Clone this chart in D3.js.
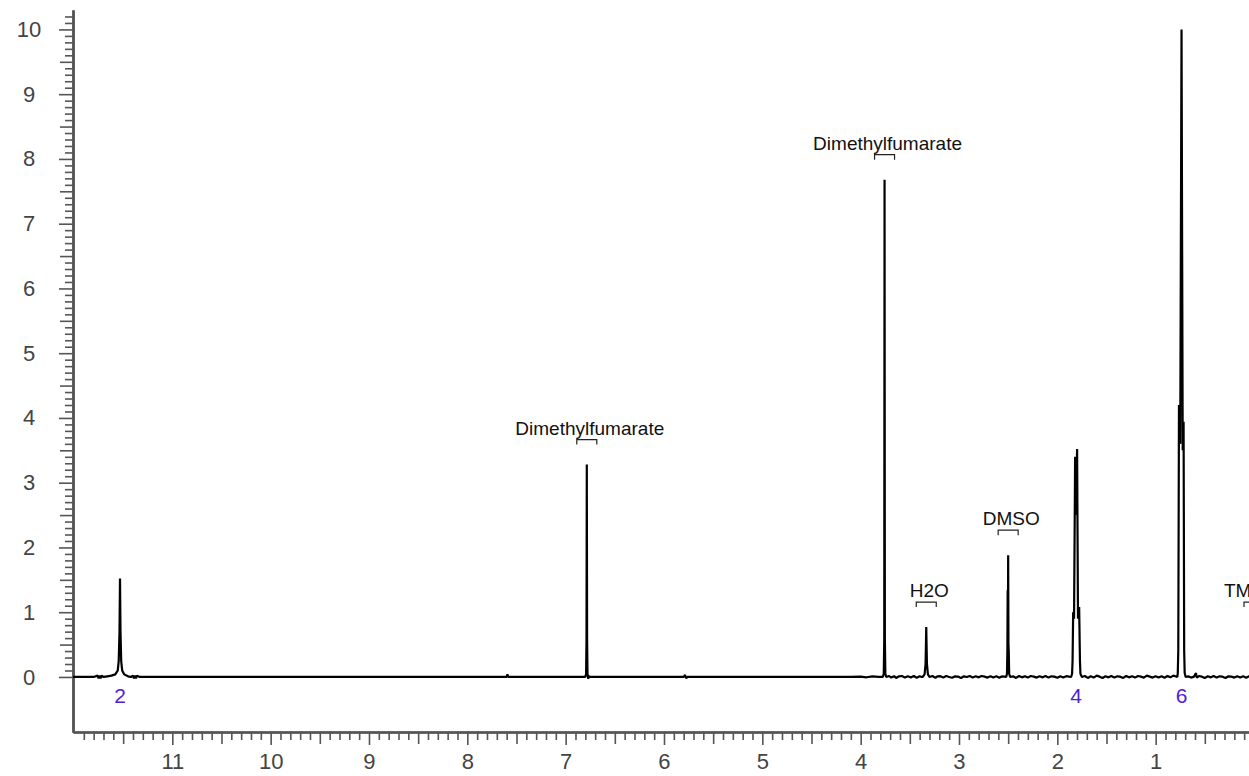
<!DOCTYPE html>
<html>
<head>
<meta charset="utf-8">
<script src="https://cdn.jsdelivr.net/npm/d3@7"></script>
<style>
  body { margin: 0; background: #fff; }
  svg { display: block; font-family: "Liberation Sans", Arial, sans-serif; }
</style>
</head>
<body>
<svg id="chart" width="1249" height="776"></svg>
<script>
// spectrum trace: chemical shift (ppm) and intensity
var shifts = [
  12.01, 11.80, 11.76, 11.75, 11.74, 11.73, 11.72, 11.70, 11.66, 11.62, 11.58,
  11.555, 11.545, 11.537, 11.532, 11.527, 11.52, 11.51, 11.49, 11.45, 11.42,
  11.40, 11.39, 11.38, 11.37, 11.36, 11.33,
  7.60, 7.592, 7.585, 7.57,
  6.80, 6.792, 6.788, 6.785, 6.782, 6.778, 6.77, 6.765, 6.76,
  5.80, 5.785, 5.775, 5.76,
  4.10, 4.00, 3.94, 3.88, 3.82, 3.775, 3.765, 3.760, 3.757, 3.754, 3.749, 3.74,
  3.71, 3.69, 3.66, 3.64, 3.61, 3.58, 3.55, 3.52, 3.49, 3.46, 3.43, 3.40, 3.38,
  3.37, 3.35, 3.34, 3.336, 3.333, 3.330, 3.326, 3.316, 3.30,
  3.27, 3.24, 3.22, 3.19, 3.16, 3.13, 3.10, 3.07, 3.04, 3.01, 2.98, 2.95,
  2.92, 2.89, 2.86, 2.83, 2.80, 2.77, 2.74, 2.71, 2.68, 2.65, 2.62, 2.59,
  2.56, 2.54,
  2.52, 2.512, 2.508, 2.505, 2.503, 2.500, 2.497, 2.494, 2.49, 2.48,
  2.45, 2.42, 2.39, 2.36, 2.33, 2.30, 2.27, 2.24, 2.21, 2.18, 2.15, 2.12,
  2.09, 2.06, 2.03, 2.00, 1.97, 1.94, 1.91, 1.88,
  1.86, 1.85, 1.845, 1.839, 1.83, 1.819, 1.81, 1.799, 1.79, 1.778, 1.77,
  1.765, 1.75,
  1.72, 1.69, 1.66, 1.63, 1.60, 1.57, 1.54, 1.51, 1.48, 1.45, 1.42, 1.39,
  1.36, 1.33, 1.30, 1.27, 1.24, 1.21, 1.18, 1.15, 1.12, 1.09, 1.06, 1.03,
  1.00, 0.97, 0.94, 0.91, 0.88, 0.85, 0.82, 0.80,
  0.78, 0.775, 0.77, 0.763, 0.75, 0.737, 0.725, 0.716, 0.71, 0.705, 0.695,
  0.67, 0.64, 0.61, 0.59, 0.585, 0.58, 0.56, 0.53, 0.50, 0.47, 0.44, 0.41,
  0.38, 0.35, 0.32, 0.29, 0.26, 0.23, 0.20, 0.17, 0.14, 0.11, 0.08, 0.05,
  0.03, 0.01, 0.004, 0.0, -0.004, -0.01, -0.05
];
var intensities = [
  0, 0, 0.02, -0.02, 0.02, -0.02, 0.02, 0, 0.01, 0.02, 0.04,
  0.10, 0.25, 0.70, 1.52, 0.70, 0.25, 0.10, 0.04, 0.01, 0,
  0.02, -0.02, 0.02, -0.02, 0.02, 0,
  0, 0.04, 0, 0,
  0, 0.05, 0.60, 3.28, 0.60, 0.05, -0.03, 0.02, 0,
  0, 0.03, -0.02, 0,
  0, 0.005, -0.005, 0.01, 0, 0, 0.05, 0.60, 7.68, 0.60, 0.05, 0,
  0.015, -0.01, 0.012, -0.015, 0.01, 0.015, -0.01, 0.012, -0.008, 0.014, -0.012, 0.01, 0,
  0, 0.04, 0.20, 0.50, 0.77, 0.50, 0.20, 0.04, 0,
  0.015, -0.015, 0.01, 0.012, -0.01, 0.015, 0, -0.012, 0.01, 0.006, -0.015, 0.01,
  0, 0.015, -0.01, 0.01, -0.006, 0.015, 0.005, -0.01, 0.012, -0.008, 0.01, -0.012,
  0.01, 0.005,
  0, 0.05, 0.40, 1.34, 0.50, 1.88, 0.50, 0.40, 0.05, 0,
  0.01, -0.015, 0.015, -0.006, 0.01, -0.01, 0.015, 0.005, -0.01, 0.01, -0.006, 0.015,
  -0.01, 0.01, 0.005, -0.012, 0.01, -0.008, 0.012, 0.004,
  0, 0.05, 0.25, 1.00, 0.90, 3.40, 2.50, 3.52, 0.90, 1.08, 0.25,
  0.05, 0,
  0.015, -0.015, 0.01, -0.01, 0.02, 0.005, -0.015, 0.01, -0.006, 0.015, -0.01, 0.01,
  0.005, -0.015, 0.015, -0.006, 0.01, -0.01, 0.015, 0.005, -0.01, 0.02, 0.005, -0.01,
  0.012, -0.008, 0.01, -0.012, 0.015, -0.006, 0.02, 0.01,
  0, 0.06, 0.40, 4.20, 3.60, 10.0, 3.50, 3.94, 0.40, 0.06, 0,
  0.01, -0.01, 0.005, 0.06, 0.01, -0.01, 0.015, 0.005, -0.015, 0.01, -0.006, 0.015,
  -0.01, 0.01, 0.005, -0.015, 0.01, 0.005, -0.01, 0.012, -0.008, 0.01, -0.012, 0.01,
  0.005, 0, 0.20, 0.77, 0.20, 0, 0
];

// peak annotations (label, shift of the assigned peak, height of that peak)
var annotLabels = ["Dimethylfumarate", "Dimethylfumarate", "H2O", "DMSO", "TMS"];
var annotShifts = [6.785, 3.757, 3.333, 2.50, 0.0];
var annotHeights = [3.28, 7.68, 0.77, 1.88, 0.77];

// integrals printed below the baseline
var integralLabels = ["2", "4", "6"];
var integralShifts = [11.532, 1.809, 0.737];

// axis ticks
var xMajorTicks = d3.range(11, -1, -1);
var yMajorTicks = d3.range(0, 11);

var width = 1249, height = 776;
var svg = d3.select("#chart");

var x = d3.scaleLinear().domain([12.01, 0]).range([73, 1254]);
var y = d3.scaleLinear().domain([-0.85, 10.3]).range([732, 10]);

var axisColor = "#555", labelColor = "#444";

// minor / medium / major ticks, drawn as overlaid axes
var xMinor = d3.range(119, -1, -1).map(function (d) { return d / 10; })
  .filter(function (d) { return Math.round(d * 10) % 5 !== 0; });
var xMedium = d3.range(115, 0, -10).map(function (d) { return d / 10; });
var yMinor = d3.range(0, 103).map(function (d) { return d / 10; })
  .filter(function (d) { return Math.round(d * 10) % 5 !== 0; });
var yMedium = d3.range(5, 100, 10).map(function (d) { return d / 10; });

function styleAxis(g) {
  g.selectAll("path, line").attr("stroke", axisColor).attr("stroke-width", 1.6);
  g.selectAll("text").attr("fill", labelColor).style("font-size", "22px");
}

var xg = svg.append("g").attr("transform", "translate(0," + y(-0.85) + ")");
xg.append("g").call(d3.axisBottom(x).tickValues(xMinor).tickSize(8).tickFormat("").tickSizeOuter(0)).call(styleAxis);
xg.append("g").call(d3.axisBottom(x).tickValues(xMedium).tickSize(12).tickFormat("").tickSizeOuter(0)).call(styleAxis);
xg.append("g").call(d3.axisBottom(x).tickValues(xMajorTicks).tickSize(13).tickPadding(8).tickFormat(d3.format("d")).tickSizeOuter(0)).call(styleAxis);
xg.selectAll(".domain").attr("stroke-width", 2.2);

var yg = svg.append("g").attr("transform", "translate(" + x(12.01) + ",0)");
yg.append("g").call(d3.axisLeft(y).tickValues(yMinor).tickSize(8).tickFormat("").tickSizeOuter(0)).call(styleAxis);
yg.append("g").call(d3.axisLeft(y).tickValues(yMedium).tickSize(13).tickFormat("").tickSizeOuter(0)).call(styleAxis);
var yMajor = yg.append("g").call(d3.axisLeft(y).tickValues(yMajorTicks).tickSize(14).tickFormat(d3.format("d")).tickSizeOuter(0)).call(styleAxis);
yMajor.selectAll("text").attr("text-anchor", "middle").attr("x", -44);
yg.selectAll(".domain").attr("stroke-width", 2.2);

// the spectrum trace
var points = shifts.map(function (s, i) { return [s, intensities[i]]; });
var line = d3.line()
  .x(function (d) { return x(d[0]); })
  .y(function (d) { return y(d[1]); });

svg.append("path")
  .datum(points)
  .attr("fill", "none")
  .attr("stroke", "#000")
  .attr("stroke-width", 2.2)
  .attr("stroke-linejoin", "bevel")
  .attr("d", line);

// annotation brackets and labels
var annot = svg.append("g").selectAll("g")
  .data(annotLabels.map(function (l, i) { return { label: l, shift: annotShifts[i], h: annotHeights[i] }; }))
  .enter().append("g");

annot.append("path")
  .attr("fill", "none")
  .attr("stroke", "#222")
  .attr("stroke-width", 1.2)
  .attr("d", function (d) {
    var cx = x(d.shift), by = y(d.h) - 25;
    return "M" + (cx - 10) + "," + (by + 5) + "V" + by + "H" + (cx + 10) + "V" + (by + 5);
  });

annot.append("text")
  .attr("x", function (d) { return Math.min(x(d.shift) + 3, width - 5); })
  .attr("y", function (d) { return y(d.h) - 30; })
  .attr("text-anchor", "middle")
  .attr("fill", "#111")
  .style("font-size", "19px")
  .text(function (d) { return d.label; });

// integral values
svg.append("g").selectAll("text")
  .data(integralLabels)
  .enter().append("text")
  .attr("x", function (d, i) { return x(integralShifts[i]); })
  .attr("y", y(0) + 26)
  .attr("text-anchor", "middle")
  .attr("fill", "#5020d8")
  .style("font-size", "21px")
  .text(function (d) { return d; });
</script>
</body>
</html>
